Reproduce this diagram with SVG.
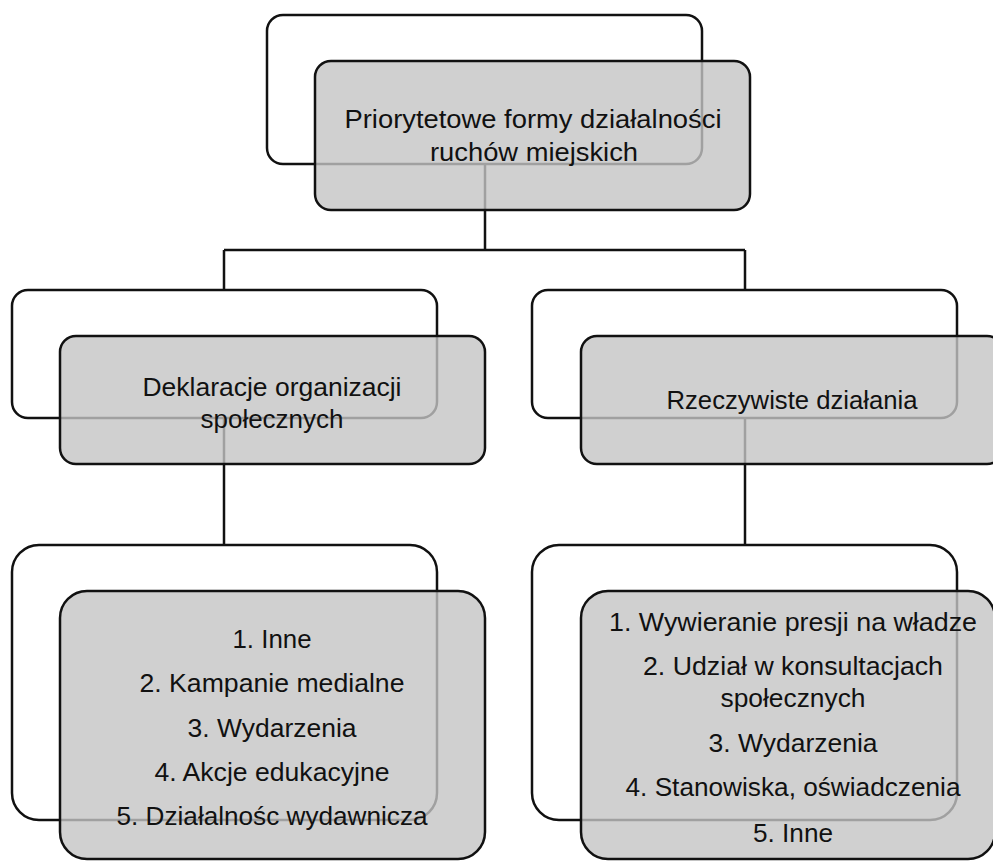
<svg xmlns="http://www.w3.org/2000/svg" width="993" height="861" viewBox="0 0 993 861">
<style>
.frame{fill:none;stroke:#111;stroke-width:2.5}
.box{fill:#c4c4c4;fill-opacity:0.8;stroke:#111;stroke-width:2.5}
.conn{fill:none;stroke:#111;stroke-width:2.5}
text{font-family:"Liberation Sans",Arial,sans-serif;font-size:25px;fill:#111;text-anchor:middle}
</style>
<rect width="993" height="861" fill="#fff"/>
<g id="frames">
<rect class="frame" x="267" y="15" width="435" height="149" rx="16"/>
<rect class="frame" x="12" y="290" width="425" height="128" rx="16"/>
<rect class="frame" x="532" y="290" width="425" height="128" rx="16"/>
<rect class="frame" x="12" y="545" width="425" height="275" rx="27"/>
<rect class="frame" x="532" y="545" width="425" height="275" rx="27"/>
</g>
<g id="connectors">
<path class="conn" d="M485 164 V250 M224 250 H745 M224 250 V290 M745 250 V290"/>
<path class="conn" d="M224 418 V545"/>
<path class="conn" d="M745 418 V545"/>
</g>
<g id="root">
<rect class="box" x="315" y="61" width="435" height="149" rx="16"/>
<text x="533" y="128" textLength="377" lengthAdjust="spacingAndGlyphs">Priorytetowe formy działalności</text>
<text x="534" y="161" textLength="208" lengthAdjust="spacingAndGlyphs">ruchów miejskich</text>
</g>
<g id="deklaracje">
<rect class="box" x="60" y="336" width="425" height="128" rx="16"/>
<text x="272" y="396" textLength="259" lengthAdjust="spacingAndGlyphs">Deklaracje organizacji</text>
<text x="272" y="428" textLength="143" lengthAdjust="spacingAndGlyphs">społecznych</text>
</g>
<g id="rzeczywiste">
<rect class="box" x="581" y="336" width="422" height="128" rx="16"/>
<text x="792" y="409" textLength="251" lengthAdjust="spacingAndGlyphs">Rzeczywiste działania</text>
</g>
<g id="deklaracje-lista">
<rect class="box" x="60" y="591" width="425" height="268" rx="27"/>
<text x="272" y="648" textLength="79" lengthAdjust="spacingAndGlyphs">1. Inne</text>
<text x="272" y="692" textLength="265" lengthAdjust="spacingAndGlyphs">2. Kampanie medialne</text>
<text x="272" y="737" textLength="169" lengthAdjust="spacingAndGlyphs">3. Wydarzenia</text>
<text x="272" y="781" textLength="235" lengthAdjust="spacingAndGlyphs">4. Akcje edukacyjne</text>
<text x="272" y="825" textLength="311" lengthAdjust="spacingAndGlyphs">5. Działalnośc wydawnicza</text>
</g>
<g id="rzeczywiste-lista">
<rect class="box" x="581" y="591" width="414" height="268" rx="27"/>
<text x="793" y="631" textLength="368" lengthAdjust="spacingAndGlyphs">1. Wywieranie presji na władze</text>
<text x="793" y="675" textLength="300" lengthAdjust="spacingAndGlyphs">2. Udział w konsultacjach</text>
<text x="793" y="707" textLength="145" lengthAdjust="spacingAndGlyphs">społecznych</text>
<text x="793" y="752" textLength="169" lengthAdjust="spacingAndGlyphs">3. Wydarzenia</text>
<text x="793" y="796" textLength="335" lengthAdjust="spacingAndGlyphs">4. Stanowiska, oświadczenia</text>
<text x="793" y="842" textLength="80" lengthAdjust="spacingAndGlyphs">5. Inne</text>
</g>
</svg>
